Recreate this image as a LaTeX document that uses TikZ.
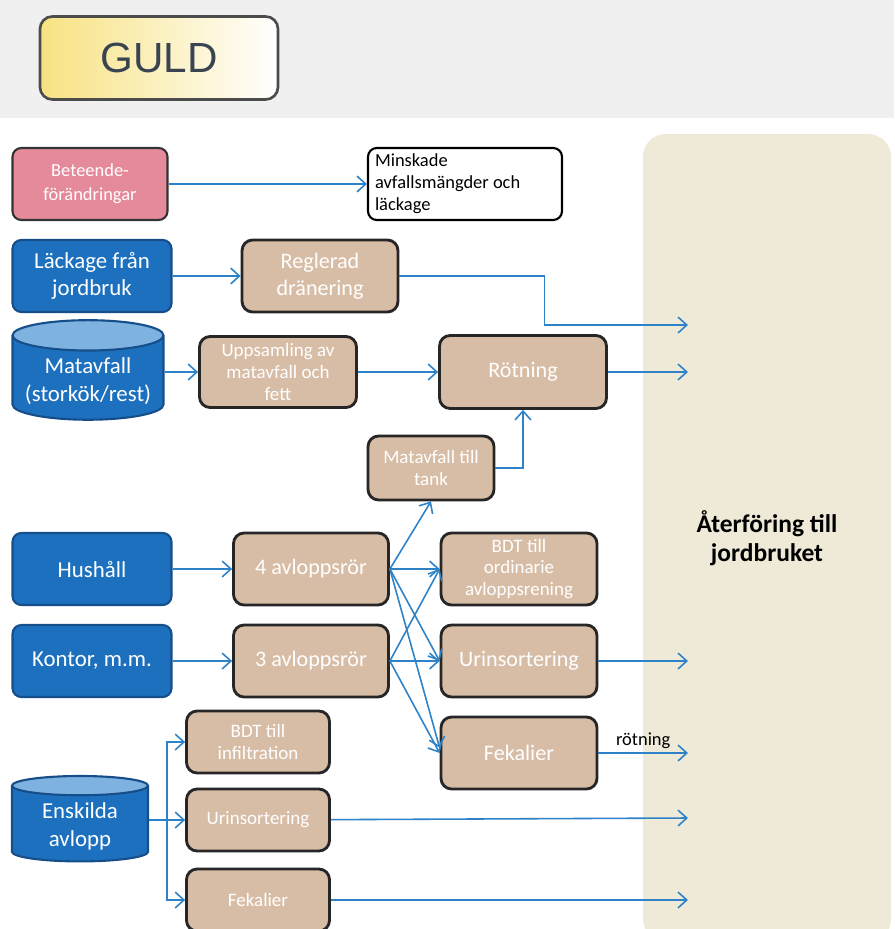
\documentclass[tikz,border=0pt]{standalone}
\usepackage{fontspec}
\setmainfont{Carlito}
\newfontfamily\arialfont{Liberation Sans}
\usetikzlibrary{shapes.geometric, arrows.meta, positioning, calc}

\definecolor{blaBox}{RGB}{28,112,190}
\definecolor{blaKant}{RGB}{22,78,138}
\definecolor{blaTopp}{RGB}{125,178,225}
\definecolor{brunBox}{RGB}{216,189,166}
\definecolor{rosaBox}{RGB}{229,138,154}
\definecolor{pilBla}{RGB}{45,130,200}
\definecolor{beigePanel}{RGB}{238,234,215}
\definecolor{guldGul}{RGB}{247,226,130}
\definecolor{guldText}{RGB}{58,67,80}

\begin{document}
\begin{tikzpicture}[x=0.02cm, y=-0.02cm,
  kalla/.style={rectangle, rounded corners=5pt, draw=blaKant, line width=1.2pt,
                fill=blaBox, text=white, align=center,
                font=\fontsize{13}{15}\selectfont,
                minimum width=3.18cm, minimum height=1.44cm},
  tunna/.style={cylinder, shape border rotate=90, aspect=0.22, draw=blaKant,
                line width=1.2pt, cylinder uses custom fill,
                cylinder body fill=blaBox, cylinder end fill=blaTopp,
                text=white, align=center, font=\fontsize{13}{16}\selectfont},
  steg/.style={rectangle, rounded corners=6pt, draw=black!85, line width=1.6pt,
               fill=brunBox, text=white, align=center,
               font=\fontsize{12.6}{15.5}\selectfont,
               minimum width=3.12cm, minimum height=1.44cm},
  litet/.style={font=\fontsize{10.8}{12.5}\selectfont},
  pil/.style={-{Straight Barb[length=5pt, width=9pt]}, pilBla, line width=0.9pt},
  panel/.style={rectangle, rounded corners=0.45cm, fill=beigePanel,
                minimum width=4.96cm, minimum height=16.16cm,
                font=\fontsize{14.5}{16.5}\selectfont\bfseries, align=center}
]
\useasboundingbox (0,0) rectangle (894,929);

% bakgrund: grått band upptill och panelen till höger
\fill[black!6] (0,0) rectangle (894,118);
\begin{scope}
  \clip (0,0) rectangle (894,929);
  \node[panel] (retur) at (767,538) {Återföring till\\jordbruket};
\end{scope}

% rubrik
\node[rectangle, rounded corners=7pt, draw=black!70, line width=1.5pt,
      left color=guldGul, right color=white, text=guldText,
      minimum width=4.76cm, minimum height=1.66cm,
      font=\arialfont\fontsize{24}{28}\selectfont] (guld) at (159,58) {GULD};

% översta raderna
\node[kalla, fill=rosaBox, draw=black!80, minimum width=3.1cm,
      font=\fontsize{10.5}{13.5}\selectfont] (beteende) at (90,184) {Beteende-\\förändringar};
\node[rectangle, rounded corners=5pt, draw=black, line width=1.2pt, fill=white,
      align=flush left, font=\fontsize{10.5}{12.5}\selectfont, inner xsep=4pt,
      text width=3.6cm, minimum height=1.44cm] (minskade) at (465,184)
      {Minskade\\avfallsmängder och\\läckage};

\node[kalla] (lackage) at (92,276) {Läckage från\\jordbruk};
\node[steg] (reglerad) at (320,276) {Reglerad\\dränering};

\node[tunna, minimum width=3.02cm, minimum height=1.76cm] (matavfall) at (88,381) {Matavfall\\(storkök/rest)};
\node[steg, font=\fontsize{10.8}{12.5}\selectfont, minimum width=3.14cm,
      minimum height=1.42cm] (uppsamling) at (278,372) {Uppsamling av\\matavfall och\\fett};
\node[steg, minimum width=3.34cm, minimum height=1.46cm] (rotning) at (523,372) {Rötning};
\node[steg, litet, minimum width=2.52cm, minimum height=1.28cm] (tank) at (431,468) {Matavfall till\\tank};

% hushåll och kontor
\node[kalla] (hushall) at (92,569) {Hushåll};
\node[kalla] (kontor) at (92,661) {Kontor, m.m.};
\node[steg, minimum width=3.1cm] (fyra) at (311,569) {4 avloppsrör};
\node[steg, minimum width=3.1cm] (tre) at (311,661) {3 avloppsrör};
\node[steg, litet] (bdt) at (519,569) {BDT till\\ordinarie\\avloppsrening};
\node[steg] (urin) at (519,661) {Urinsortering};
\node[steg] (fekalier) at (519,753) {Fekalier};

% enskilda avlopp
\node[tunna, minimum width=2.72cm, minimum height=1.64cm] (enskilda) at (80,826) {Enskilda\\avlopp};
\node[steg, litet, minimum width=2.86cm, minimum height=1.24cm] (bdtinf) at (258,742) {BDT till\\infiltration};
\node[steg, litet, minimum width=2.86cm, minimum height=1.24cm] (urin2) at (258,820) {Urinsortering};
\node[steg, litet, minimum width=2.86cm, minimum height=1.24cm] (fek2) at (258,900) {Fekalier};

% pilarnas slutpunkter i panelen
\coordinate (ut1) at (688,325);
\coordinate (ut2) at (688,372);
\coordinate (ut3) at (688,661);
\coordinate (ut4) at (688,753);
\coordinate (ut5) at (688,818);
\coordinate (ut6) at (688,900);
\coordinate (gren) at (167,820);

% pilar
\draw[pil] (beteende) -- (minskade);
\draw[pil] (lackage) -- (reglerad);
\draw[pil] (reglerad.east) -- ++(145,0) |- (ut1);
\draw[pil] (matavfall.east |- uppsamling.west) -- (uppsamling.west);
\draw[pil] (uppsamling) -- (rotning);
\draw[pil] (rotning) -- (ut2);
\draw[pil] (tank.east) -| (rotning.south);

\draw[pil] (hushall) -- (fyra);
\draw[pil] (kontor) -- (tre);
\draw[pil] (fyra.east) -- (tank.south);
\draw[pil] (fyra.east) -- (bdt.west);
\draw[pil] (fyra.east) -- (urin.west);
\draw[pil] (fyra.east) -- ([yshift=3pt]fekalier.west);
\draw[pil] (tre.east) -- (bdt.west);
\draw[pil] (tre.east) -- (urin.west);
\draw[pil] (tre.east) -- (fekalier.west);
\draw[pil] (urin) -- (ut3);
\draw[pil] (fekalier) -- node[above, inner sep=2pt, text=black,
      font=\fontsize{10.5}{12}\selectfont] (rotlabel) {rötning} (ut4);

\draw[pil] (enskilda.east |- gren) -- (urin2.west);
\draw[pil] (gren) |- (bdtinf.west);
\draw[pil] (gren) |- (fek2.west);
\draw[pil] (urin2) -- (ut5);
\draw[pil] (fek2) -- (ut6);

\end{tikzpicture}
\end{document}
